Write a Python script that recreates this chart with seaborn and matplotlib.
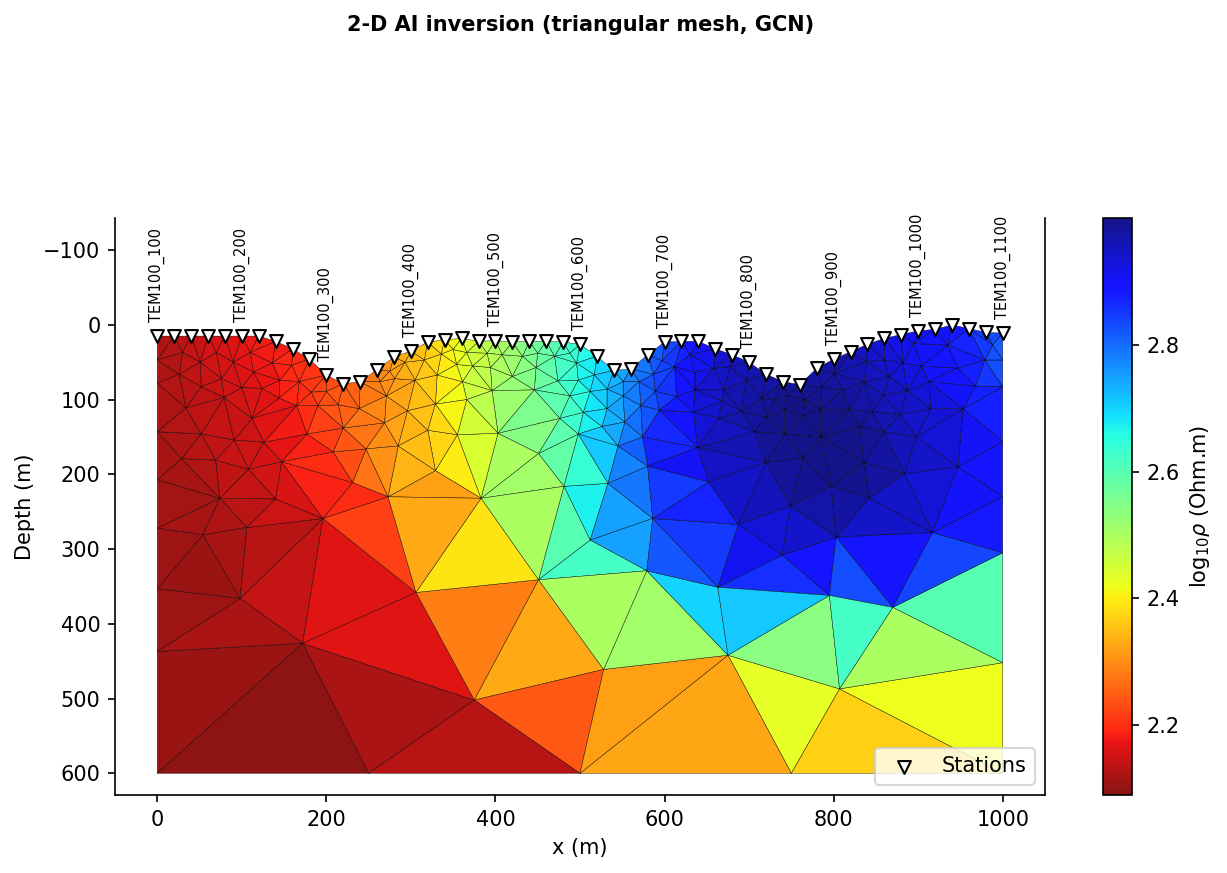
"""
2-D AI inversion on a triangular mesh, values read off the published figure.
"""

import numpy as np
import matplotlib
matplotlib.use("Agg")
import matplotlib.pyplot as plt
import matplotlib.tri as mtri
import seaborn as sns

sns.set_style("ticks", rc={
    "axes.edgecolor": "k", "text.color": "k", "axes.labelcolor": "k",
    "xtick.color": "k", "ytick.color": "k",
    "xtick.major.size": 3.5, "ytick.major.size": 3.5,
})
plt.rcParams["font.family"] = ["DejaVu Sans"]

# stations along the surface, every 20 m
station_x = [0, 20, 40, 60, 80, 100, 120, 140, 160, 180, 200, 220, 240, 260, 280, 300, 320,
             340, 360, 380, 400, 420, 440, 460, 480, 500, 520, 540, 560, 580, 600, 620, 640,
             660, 680, 700, 720, 740, 760, 780, 800, 820, 840, 860, 880, 900, 920, 940, 960,
             980, 1000]
station_depth = [15, 15, 15, 15, 15, 15, 15, 22, 32, 46, 67, 79, 76, 60, 43, 35, 23,
                 20, 18, 22, 21, 23, 22, 22, 23, 26, 42, 61, 59, 40, 23, 22, 22,
                 32, 40, 50, 66, 76, 80, 58, 46, 36, 26, 18, 13, 8, 6, 0, 5,
                 10, 11]
station_rho = [2.12, 2.13, 2.14, 2.15, 2.16, 2.17, 2.18, 2.18, 2.19, 2.2, 2.22, 2.24, 2.26, 2.29, 2.32, 2.34, 2.36,
               2.4, 2.43, 2.47, 2.5, 2.52, 2.56, 2.58, 2.62, 2.65, 2.68, 2.72, 2.76, 2.79, 2.82, 2.86, 2.89,
               2.92, 2.94, 2.96, 2.97, 2.98, 2.98, 2.97, 2.97, 2.96, 2.94, 2.93, 2.91, 2.9, 2.89, 2.88, 2.87,
               2.85, 2.82]

label_x = [0, 100, 200, 300, 400, 500, 600, 700, 800, 900, 1000]
label_depth = [15, 15, 67, 35, 21, 26, 23, 50, 46, 8, 11]
label_names = ["TEM100_100", "TEM100_200", "TEM100_300", "TEM100_400", "TEM100_500", "TEM100_600",
               "TEM100_700", "TEM100_800", "TEM100_900", "TEM100_1000", "TEM100_1100"]

# interior mesh nodes: x (m), depth (m), log10 rho
west_nodes = [
    (0, 47, 2.12), (0, 78, 2.12), (0, 143, 2.12), (0, 207, 2.11), (0, 272, 2.11), (0, 353, 2.1),
    (0, 437, 2.1), (0, 600, 2.09), (30, 37, 2.13), (70, 37, 2.16), (110, 37, 2.18), (51, 50, 2.15),
    (90, 50, 2.16), (136, 51, 2.18), (159, 54, 2.2), (26, 66, 2.13), (114, 63, 2.17), (76, 72, 2.15),
    (145, 74, 2.18), (168, 76, 2.2), (52, 83, 2.13), (100, 84, 2.16), (124, 85, 2.17), (182, 90, 2.21),
    (200, 89, 2.23), (79, 97, 2.15), (144, 98, 2.18), (34, 111, 2.13), (165, 108, 2.19), (190, 108, 2.22),
    (214, 107, 2.25), (239, 112, 2.27), (112, 125, 2.15), (220, 138, 2.25), (177, 146, 2.19),
    (52, 146, 2.13), (91, 154, 2.14), (126, 157, 2.16), (208, 170, 2.21), (247, 166, 2.26),
    (29, 179, 2.12), (69, 181, 2.14), (147, 183, 2.16), (108, 193, 2.15), (231, 211, 2.23),
    (74, 232, 2.12), (140, 233, 2.15), (273, 230, 2.33), (196, 259, 2.17), (106, 271, 2.13),
    (54, 281, 2.12), (98, 366, 2.12), (172, 426, 2.11),
]
middle_nodes = [
    (263, 76, 2.29), (281, 72, 2.31), (271, 95, 2.3), (269, 131, 2.31), (285, 162, 2.33), (296, 115, 2.33),
    (293, 50, 2.34), (275, 62, 2.31), (305, 74, 2.35), (316, 47, 2.36), (336, 39, 2.39), (350, 33, 2.41),
    (366, 37, 2.44), (390, 38, 2.48), (408, 40, 2.5), (432, 42, 2.54), (450, 38, 2.57), (470, 42, 2.6),
    (488, 38, 2.63), (331, 67, 2.38), (354, 53, 2.42), (373, 55, 2.45), (394, 57, 2.48), (420, 69, 2.52),
    (448, 57, 2.56), (474, 75, 2.61), (496, 51, 2.65), (517, 67, 2.69), (361, 76, 2.44), (498, 74, 2.66),
    (396, 88, 2.5), (446, 87, 2.56), (512, 89, 2.68), (532, 86, 2.72), (551, 76, 2.76), (570, 76, 2.8),
    (488, 95, 2.62), (329, 106, 2.37), (366, 100, 2.44), (551, 95, 2.76), (572, 108, 2.8), (504, 117, 2.65),
    (532, 112, 2.72), (476, 125, 2.6), (553, 130, 2.76), (526, 136, 2.71), (320, 141, 2.36), (355, 147, 2.41),
    (403, 145, 2.5), (498, 146, 2.65), (574, 150, 2.83), (545, 162, 2.76), (451, 172, 2.53), (329, 195, 2.36),
    (580, 189, 2.85), (533, 212, 2.72), (481, 216, 2.58), (383, 232, 2.42), (306, 358, 2.3), (375, 502, 2.3),
]
east_nodes = [
    (597, 48, 2.84), (612, 56, 2.86), (630, 40, 2.89), (636, 64, 2.9), (587, 66, 2.83), (589, 89, 2.84),
    (614, 96, 2.87), (594, 114, 2.84), (634, 117, 2.92), (636, 87, 2.92), (639, 164, 2.93), (668, 102, 2.95),
    (664, 125, 2.95), (658, 58, 2.93), (677, 56, 2.95), (670, 87, 2.96), (697, 74, 2.97), (691, 116, 2.97),
    (715, 98, 2.98), (720, 123, 2.99), (707, 143, 2.98), (742, 114, 3.0), (730, 100, 2.99), (746, 94, 2.99),
    (766, 100, 3.0), (764, 121, 3.0), (786, 83, 2.98), (784, 113, 3.0), (801, 65, 2.98), (811, 87, 2.98),
    (819, 113, 2.99), (839, 49, 2.95), (836, 76, 2.96), (860, 47, 2.93), (866, 69, 2.95), (859, 94, 2.96),
    (846, 116, 2.97), (879, 120, 2.95), (887, 88, 2.94), (882, 51, 2.92), (895, 25, 2.91), (913, 76, 2.92),
    (904, 55, 2.91), (935, 27, 2.89), (947, 58, 2.89), (979, 47, 2.85), (988, 27, 2.83), (968, 82, 2.88),
    (1000, 47, 2.8), (1000, 83, 2.83), (953, 112, 2.91), (915, 112, 2.94), (831, 136, 2.99), (785, 150, 3.0),
    (742, 146, 3.0), (859, 143, 2.97), (898, 150, 2.95), (720, 184, 2.98), (764, 178, 3.0), (836, 184, 3.0),
    (884, 199, 2.96), (947, 190, 2.93), (1000, 156, 2.88), (652, 210, 2.94), (797, 216, 3.0), (842, 232, 2.98),
    (749, 242, 2.97), (687, 267, 2.92), (803, 284, 2.95), (917, 278, 2.9), (586, 259, 2.82), (1000, 230, 2.88),
    (739, 308, 2.9), (663, 351, 2.8),
]
deep_nodes = [
    (451, 341, 2.45), (528, 461, 2.4), (579, 329, 2.6), (675, 442, 2.5), (795, 362, 2.75), (807, 487, 2.5),
    (870, 378, 2.75), (1000, 452, 2.45), (1000, 305, 2.7), (250, 600, 2.09), (500, 600, 2.2),
    (750, 600, 2.38), (1000, 600, 2.36), (512, 288, 2.65),
]

# large cells with their own colour: centre x, centre depth, log10 rho
cell_x = [57, 141, 266, 375, 468, 568, 642, 744, 852, 936, 892, 957, 759, 824, 711, 639, 594, 519, 451, 377,
          284, 90, 33, 155, 225, 258, 321, 380, 438, 481, 514, 559, 609, 645, 696, 732, 779, 823, 863, 929,
          972, 18, 51, 86, 133, 233, 328, 412, 504, 509, 543, 566, 606, 642]
cell_depth = [488, 542, 509, 567, 521, 501, 547, 510, 562, 513, 439, 378, 430, 409, 385, 374, 411, 377, 435, 400,
              429, 410, 385, 350, 348, 282, 273, 310, 263, 282, 319, 292, 313, 292, 309, 340, 318, 341, 313, 320,
              271, 302, 333, 306, 299, 233, 219, 183, 191, 239, 253, 220, 219, 245]
cell_rho = [2.105, 2.095, 2.12, 2.13, 2.245, 2.32, 2.325, 2.43, 2.37, 2.42, 2.5, 2.6, 2.54, 2.62, 2.71, 2.7, 2.51, 2.5, 2.33, 2.285,
            2.165, 2.12, 2.11, 2.14, 2.165, 2.22, 2.33, 2.39, 2.5, 2.6, 2.62, 2.75, 2.82, 2.85, 2.91, 2.86, 2.9, 2.83, 2.89, 2.84,
            2.88, 2.11, 2.105, 2.115, 2.13, 2.2, 2.32, 2.5, 2.64, 2.67, 2.75, 2.79, 2.85, 2.87]

inner = np.array(west_nodes + middle_nodes + east_nodes + deep_nodes, dtype=float)
x = np.concatenate([station_x, inner[:, 0]])
depth = np.concatenate([station_depth, inner[:, 1]])
rho = np.concatenate([station_rho, inner[:, 2]])

tri = mtri.Triangulation(x, depth)
cx = x[tri.triangles].mean(axis=1)
cz = depth[tri.triangles].mean(axis=1)

# drop the triangles Delaunay puts over the valleys
tri.set_mask(cz < np.interp(cx, station_x, station_depth))

faces = rho[tri.triangles].mean(axis=1)
for px, pz, val in zip(cell_x, cell_depth, cell_rho):
    faces[np.argmin((cx - px) ** 2 + (cz - pz) ** 2)] = val

fig = plt.figure(figsize=(1227 / 150, 873 / 150), dpi=150)
ax = fig.add_axes([115 / 1227, 1 - 795 / 873, 930 / 1227, 577 / 873])
cax = fig.add_axes([1103 / 1227, 1 - 795 / 873, 29 / 1227, 577 / 873])

mesh = ax.tripcolor(tri, facecolors=faces, cmap=sns.color_palette("jet_r", as_cmap=True),
                    vmin=2.09, vmax=3.0, alpha=0.92, edgecolors="k", linewidth=0.2)

sns.scatterplot(x=station_x, y=station_depth, marker="v", s=38, color="white", edgecolor="k",
                linewidth=1, ax=ax, label="Stations", zorder=5, clip_on=False)
for lx, ld, name in zip(label_x, label_depth, label_names):
    ax.text(lx, ld - 19, name, rotation=90, ha="center", va="bottom", fontsize=7)

ax.set_xlim(-50, 1050)
ax.set_ylim(629, -143)
ax.set_yticks(np.arange(-100, 601, 100))
ax.set_xlabel("x (m)")
ax.set_ylabel("Depth (m)")
sns.despine(ax=ax, top=True, right=False)
ax.legend(loc="lower right", frameon=True, framealpha=0.8, fontsize=10)

cb = fig.colorbar(mesh, cax=cax)
cb.set_ticks([2.2, 2.4, 2.6, 2.8])
cb.set_label(r"log$_{10}\rho$ (Ohm.m)")

fig.text(581 / 1227, 1 - 25 / 873, "2-D AI inversion (triangular mesh, GCN)", ha="center", va="center",
         fontsize=10, fontweight="bold")

fig.savefig("out.png", dpi=150)
